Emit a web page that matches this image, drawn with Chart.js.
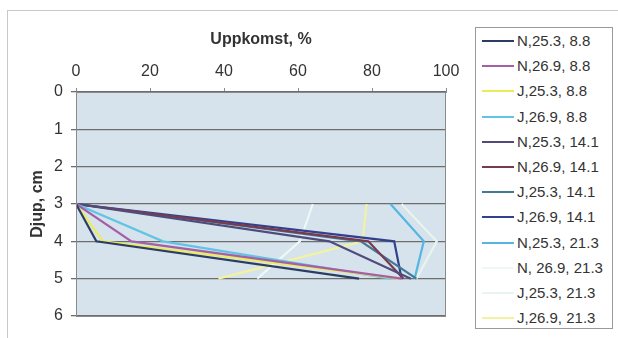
<!DOCTYPE html>
<html>
<head>
<meta charset="utf-8">
<script src="https://cdn.jsdelivr.net/npm/chart.js@4.4.1/dist/chart.umd.min.js"></script>
<style>
    body { margin: 0; background: #fff; font-family: "Liberation Sans", Arial, sans-serif; }
    #frame { position: absolute; left: 7px; top: 10px; width: 620px; height: 340px; border: 1px solid #c8c8c8; }
    #wrap { position: absolute; left: 0; top: 0; width: 470px; height: 338px; }
    #legend { position: absolute; left: 475px; top: 27px; width: 136px; height: 300px; border: 1px solid #9a9a9a; background: #fff; }
    .item { position: absolute; left: 6px; height: 20px; font-size: 15px; color: #333; white-space: nowrap; }
    .item span.swatch { position: absolute; left: 0; top: 9px; width: 32px; height: 2px; }
    .item span.label { position: absolute; left: 35px; top: 0; line-height: 20px; }
</style>
</head>
<body>
<div id="frame"></div>
<div id="wrap"><canvas id="chart" width="470" height="338"></canvas></div>
<div id="legend"></div>
<script>
// Djup (cm) for each point of a series
const depths = [3, 4, 5];

const seriesNames = [
    'N,25.3, 8.8', 'N,26.9, 8.8', 'J,25.3, 8.8', 'J,26.9, 8.8',
    'N,25.3, 14.1', 'N,26.9, 14.1', 'J,25.3, 14.1', 'J,26.9, 14.1',
    'N,25.3, 21.3', 'N, 26.9, 21.3', 'J,25.3, 21.3', 'J,26.9, 21.3'
];

// Uppkomst (%) at depth 3, 4, 5
const n253_88 = [0, 5.5, 76.5];
const n269_88 = [0, 15, 88];
const j253_88 = [0, 7.3, 87.5];
const j269_88 = [0, 23.5, 85];
const n253_141 = [0, 68.5, 90.5];
const n269_141 = [0, 79, 88.5];
const j253_141 = [0, 77, 92];
const j269_141 = [0, 86, 88];
const n253_213 = [85, 94, 91.5];
const n269_213 = [64, 60.5, 49];
const j253_213 = [88, 97.5, 92];
const j269_213 = [78.5, 77.5, 38.5];

const seriesValues = [
    n253_88, n269_88, j253_88, j269_88,
    n253_141, n269_141, j253_141, j269_141,
    n253_213, n269_213, j253_213, j269_213
];

const seriesColors = [
    '#2b3d62', '#a45fa6', '#ecec5a', '#62c4e4',
    '#4f4c7c', '#7a3a4e', '#3f7a96', '#33408e',
    '#55b6e2', '#eef8f6', '#e8f4ee', '#f2f2a0'
];

const xTicks = [0, 20, 40, 60, 80, 100];

const datasets = seriesNames.map((name, i) => ({
    label: name,
    data: seriesValues[i].map((v, k) => ({ x: v, y: depths[k] })),
    borderColor: seriesColors[i],
    backgroundColor: seriesColors[i],
    borderWidth: 2.2,
    pointRadius: 0,
    showLine: true,
    tension: 0
}));

// plot background and right/bottom border
const plotArea = {
    id: 'plotArea',
    beforeDraw(chart) {
        const { ctx, chartArea: a } = chart;
        ctx.save();
        ctx.fillStyle = '#d6e3ed';
        ctx.fillRect(a.left, a.top, a.right - a.left, a.bottom - a.top);
        ctx.restore();
    },
    afterDraw(chart) {
        const { ctx, chartArea: a } = chart;
        ctx.save();
        ctx.strokeStyle = '#8a8a8a';
        ctx.lineWidth = 1;
        ctx.strokeRect(a.left + 0.5, a.top + 0.5, a.right - a.left - 1, a.bottom - a.top);
        ctx.restore();
    }
};

new Chart(document.getElementById('chart'), {
    type: 'scatter',
    data: { datasets },
    options: {
        responsive: false,
        animation: false,
        layout: { padding: { left: 0, right: 24, top: 0, bottom: 22 } },
        plugins: {
            legend: { display: false },
            tooltip: { enabled: false }
        },
        scales: {
            x: {
                position: 'top',
                min: 0,
                max: 100,
                afterBuildTicks: (s) => { s.ticks = xTicks.map(v => ({ value: v })); },
                afterFit: (s) => { s.height = 92; },
                ticks: { color: '#333', font: { size: 16 }, padding: 7, maxRotation: 0 },
                grid: { drawOnChartArea: false, tickLength: 4, color: '#8a8a8a' },
                border: { color: '#8a8a8a' },
                title: {
                    display: true,
                    text: 'Uppkomst, %',
                    color: '#333',
                    font: { size: 16, weight: 'bold' },
                    padding: { top: 30, bottom: 0 }
                }
            },
            y: {
                reverse: true,
                min: 0,
                max: 6,
                afterFit: (s) => { s.width = 76; },
                ticks: { stepSize: 1, color: '#333', font: { size: 16 }, padding: 8 },
                grid: { color: '#6e6e6e', tickLength: 5, lineWidth: 1.3 },
                border: { color: '#8a8a8a' },
                title: {
                    display: true,
                    text: 'Djup, cm',
                    color: '#333',
                    font: { size: 16, weight: 'bold' },
                    padding: { top: 28, bottom: 0 }
                }
            }
        }
    },
    plugins: [plotArea]
});

// legend
const legend = document.getElementById('legend');
seriesNames.forEach((name, i) => {
    const item = document.createElement('div');
    item.className = 'item';
    item.style.top = (3 + i * 25.2) + 'px';
    item.innerHTML = `<span class="swatch" style="background:${seriesColors[i]}"></span><span class="label">${name}</span>`;
    legend.appendChild(item);
});
</script>
</body>
</html>
